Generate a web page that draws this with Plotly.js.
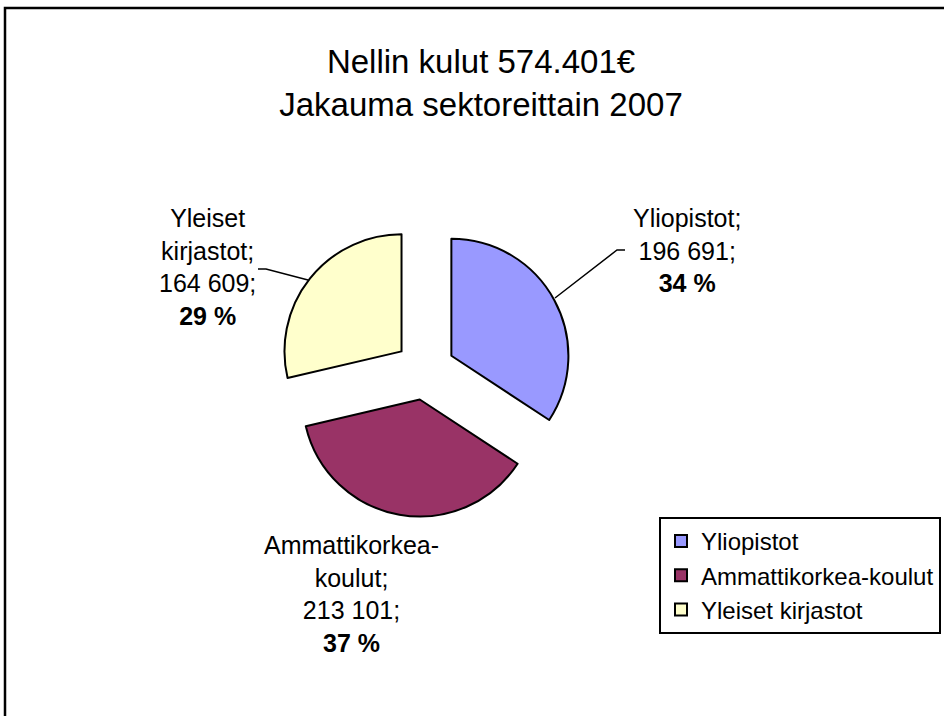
<!DOCTYPE html>
<html>
<head>
<meta charset="utf-8">
<script src="https://cdn.plot.ly/plotly-3.0.1.min.js"></script>
<style>html,body{margin:0;padding:0;background:#fff;}#chart{width:944px;height:716px;}</style>
</head>
<body>
<div id="chart"></div>
<script>
// ---- data ----
var categories = ["Yliopistot", "Ammattikorkea-koulut", "Yleiset kirjastot"];
var labelNames = ["Yliopistot;", "Ammattikorkea-<br>koulut;", "Yleiset<br>kirjastot;"];
var values = [196691, 213101, 164609];
var colors = ["#9999FF", "#993366", "#FFFFCC"];
var titleLines = ["Nellin kulut 574.401€", "Jakauma sektoreittain 2007"];

// ---- helpers ----
var W = 944, H = 716;
function px(x) { return x / W; }
function py(y) { return 1 - y / H; }
function fmt(n) { return String(n).replace(/\B(?=(\d{3})+(?!\d))/g, " "); }
var total = values.reduce(function (a, b) { return a + b; }, 0);
function pct(v) { return Math.round(v / total * 100) + " %"; }

var FONT = "Liberation Sans, Arial, sans-serif";

// pie geometry (layout)
var cx = 425, cy = 370, half = 147;

var trace = {
  type: "pie",
  labels: categories,
  values: values,
  sort: false,
  direction: "clockwise",
  rotation: 0,
  pull: [0.256, 0.256, 0.256],
  marker: { colors: colors, line: { color: "#000000", width: 2 } },
  textinfo: "none",
  hoverinfo: "label+value+percent",
  domain: { x: [px(cx - half), px(cx + half)], y: [py(cy + half), py(cy - half)] }
};

// label placement (layout)
var labelPos = [
  { x: 687, y: 250 },
  { x: 351, y: 594 },
  { x: 207, y: 267 }
];
var annotations = categories.map(function (c, i) {
  return {
    xref: "paper", yref: "paper",
    x: px(labelPos[i].x), y: py(labelPos[i].y),
    xanchor: "center", yanchor: "middle",
    showarrow: false,
    align: "center",
    text: labelNames[i] + "<br>" + fmt(values[i]) + ";<br><b>" + pct(values[i]) + "</b>",
    font: { family: FONT, size: 25, color: "#000000" }
  };
});

function pathOf(pts) {
  return pts.map(function (p, k) { return (k ? "L" : "M") + px(p[0]) + "," + py(p[1]); }).join(" ");
}

var shapes = [
  // outer chart border
  { type: "rect", xref: "paper", yref: "paper", x0: px(5), x1: px(960), y0: py(730), y1: py(8),
    line: { color: "#000000", width: 2.5 }, fillcolor: "rgba(0,0,0,0)" },
  // leader lines
  { type: "path", xref: "paper", yref: "paper", path: pathOf([[555, 298], [617, 250], [625, 250]]),
    line: { color: "#000000", width: 1.5 } },
  { type: "path", xref: "paper", yref: "paper", path: pathOf([[258, 269], [266, 269], [308, 280]]),
    line: { color: "#000000", width: 1.5 } }
];

var layout = {
  width: W, height: H,
  margin: { l: 0, r: 0, t: 0, b: 0 },
  paper_bgcolor: "#ffffff",
  plot_bgcolor: "#ffffff",
  title: {
    text: titleLines.join("<br>"),
    font: { family: FONT, size: 33, color: "#000000" },
    x: 481 / W, xanchor: "center",
    y: 1 - 73 / H, yanchor: "middle", yref: "container"
  },
  showlegend: true,
  legend: {
    x: px(941), xanchor: "right",
    y: py(517), yanchor: "top",
    bgcolor: "#ffffff",
    bordercolor: "#000000", borderwidth: 2,
    font: { family: FONT, size: 24, color: "#000000" },
    itemclick: false
  },
  annotations: annotations,
  shapes: shapes
};

Plotly.newPlot("chart", [trace], layout, { displayModeBar: false, staticPlot: true });
</script>
</body>
</html>
